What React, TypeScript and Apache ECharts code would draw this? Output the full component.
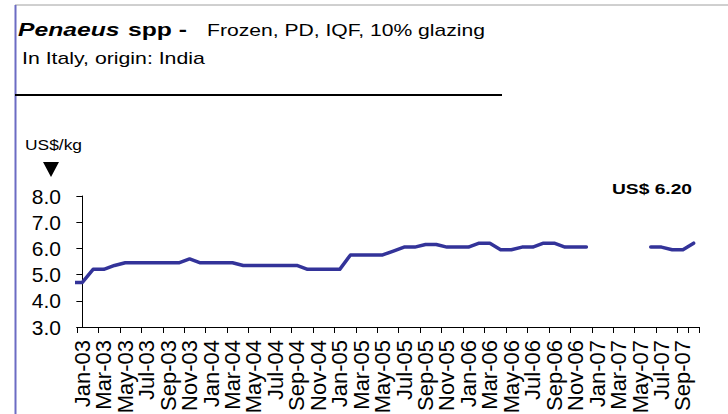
import React, { useEffect, useRef } from "react";
import * as echarts from "echarts";

const categories = [
  "Jan-03","Feb-03","Mar-03","Apr-03","May-03","Jun-03","Jul-03","Aug-03","Sep-03","Oct-03","Nov-03","Dec-03",
  "Jan-04","Feb-04","Mar-04","Apr-04","May-04","Jun-04","Jul-04","Aug-04","Sep-04","Oct-04","Nov-04","Dec-04",
  "Jan-05","Feb-05","Mar-05","Apr-05","May-05","Jun-05","Jul-05","Aug-05","Sep-05","Oct-05","Nov-05","Dec-05",
  "Jan-06","Feb-06","Mar-06","Apr-06","May-06","Jun-06","Jul-06","Aug-06","Sep-06","Oct-06","Nov-06","Dec-06",
  "Jan-07","Feb-07","Mar-07","Apr-07","May-07","Jun-07","Jul-07","Aug-07","Sep-07","Oct-07",
];

// Price US$/kg, gaps where no quote
const prices: (number | null)[] = [
  4.7, 5.2, 5.2, 5.35, 5.45, 5.45, 5.45, 5.45, 5.45, 5.45, 5.6, 5.45,
  5.45, 5.45, 5.45, 5.35, 5.35, 5.35, 5.35, 5.35, 5.35, 5.2, 5.2, 5.2,
  5.2, 5.75, 5.75, 5.75, 5.75, 5.9, 6.05, 6.05, 6.15, 6.15, 6.05, 6.05,
  6.05, 6.2, 6.2, 5.95, 5.95, 6.05, 6.05, 6.2, 6.2, 6.05, 6.05, 6.05,
  null, null, null, null, null, 6.05, 6.05, 5.95, 5.95, 6.2,
];

// value for the month before the first category (line enters from the left edge)
const priorMonthPrice = 4.7;

const yTicks = { min: 3, max: 8, interval: 1 };
const titleMain = "Penaeus";
const titleSpp = "spp -";
const titleProduct = "Frozen, PD, IQF, 10% glazing";
const subtitle = "In Italy, origin: India";
const unitLabel = "US$/kg";
const latestLabel = "US$ 6.20";

const FONT = "'Liberation Sans', Arial, Helvetica, sans-serif";

export default function App() {
  const ref = useRef<HTMLDivElement>(null);

  useEffect(() => {
    if (!ref.current) return;
    const chart = echarts.init(ref.current, undefined, { renderer: "svg" });

    const lineData: any[] = [[-1, priorMonthPrice]].concat(
      prices.map((v, i) => [i, v == null ? "-" : v])
    );

    chart.setOption({
      animation: false,
      backgroundColor: "#ffffff",
      textStyle: { fontFamily: FONT },
      grid: { left: 77, right: 29, top: 196, bottom: 87, containLabel: false, outerBoundsMode: "none" },
      xAxis: [
        {
          type: "category",
          data: categories,
          boundaryGap: true,
          axisLine: { show: true, lineStyle: { color: "#000", width: 1 } },
          axisTick: { show: true, interval: 1, length: 6, inside: false, lineStyle: { color: "#000" } },
          axisLabel: {
            interval: 0,
            formatter: (value: string, index: number) => (index % 2 === 0 ? value : ""),
            hideOverlap: false,
            rotate: 90,
            margin: 13,
            color: "#000",
            fontSize: 22,
            fontFamily: FONT,
          },
          splitLine: { show: false },
        },
        {
          type: "value",
          min: -0.5,
          max: categories.length - 0.5,
          show: false,
        },
      ],
      yAxis: {
        type: "value",
        min: yTicks.min,
        max: yTicks.max,
        interval: yTicks.interval,
        axisLine: { show: true, lineStyle: { color: "#000", width: 1 } },
        axisTick: { show: true, length: 6, lineStyle: { color: "#000" } },
        axisLabel: {
          color: "#000",
          fontSize: 21,
          margin: 16,
          fontFamily: FONT,
          formatter: (v: number) => v.toFixed(1),
        },
        splitLine: { show: false },
      },
      series: [
        {
          type: "line",
          xAxisIndex: 1,
          data: lineData,
          showSymbol: false,
          symbol: "none",
          connectNulls: false,
          clip: true,
          lineStyle: { color: "#333399", width: 3.5, cap: "round", join: "round" },
        },
      ],
      graphic: [
        { type: "line", shape: { x1: 15, y1: 5, x2: 728, y2: 5 }, style: { stroke: "#a0a0a0", lineWidth: 1 } },
        { type: "line", shape: { x1: 15.5, y1: 5, x2: 15.5, y2: 414 }, style: { stroke: "#6c6cc4", lineWidth: 2 } },
        { type: "line", shape: { x1: 15, y1: 95, x2: 502, y2: 95 }, style: { stroke: "#000", lineWidth: 2 } },
        {
          type: "text", x: 18, y: 30, scaleX: 1.3,
          style: { text: titleMain, font: `italic bold 19px ${FONT}`, fill: "#000", align: "left", verticalAlign: "middle" },
        },
        {
          type: "text", x: 128, y: 30, scaleX: 1.3,
          style: { text: titleSpp, font: `bold 19px ${FONT}`, fill: "#000", align: "left", verticalAlign: "middle" },
        },
        {
          type: "text", x: 207, y: 30, scaleX: 1.32,
          style: { text: titleProduct, font: `16px ${FONT}`, fill: "#000", align: "left", verticalAlign: "middle" },
        },
        {
          type: "text", x: 22, y: 58, scaleX: 1.33,
          style: { text: subtitle, font: `16px ${FONT}`, fill: "#000", align: "left", verticalAlign: "middle" },
        },
        {
          type: "text", x: 25, y: 144, scaleX: 1.16,
          style: { text: unitLabel, font: `15px ${FONT}`, fill: "#000", align: "left", verticalAlign: "middle" },
        },
        {
          type: "polygon",
          shape: { points: [[43, 162], [59, 162], [51, 177]] },
          style: { fill: "#000" },
        },
        {
          type: "text", x: 612, y: 189, scaleX: 1.28,
          style: { text: latestLabel, font: `bold 15px ${FONT}`, fill: "#000", align: "left", verticalAlign: "middle" },
        },
      ],
    });

    return () => chart.dispose();
  }, []);

  return (
    <div
      ref={ref}
      style={{ position: "fixed", left: 0, top: 0, width: 728, height: 414, background: "#fff" }}
    />
  );
}
